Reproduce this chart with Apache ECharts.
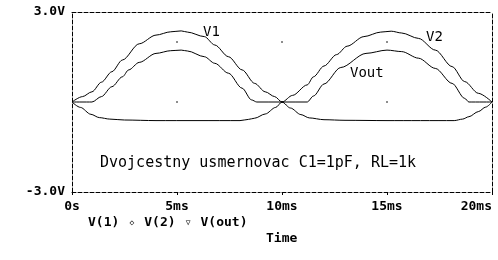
<!DOCTYPE html>
<html>
<head>
<meta charset="utf-8">
<script src="https://cdn.jsdelivr.net/npm/echarts@6/dist/echarts.min.js"></script>
<style>
  html, body { margin: 0; padding: 0; background: #fff; }
  #chart { width: 498px; height: 260px; }
</style>
</head>
<body>
<div id="chart"></div>
<script>
// time in ms, voltage in V
const v1Time = [0, 0.5, 0.95, 1.4, 1.9, 2.4, 3.2, 4.0, 4.7, 5.2, 5.5, 6.3, 6.8, 7.45, 8.1, 8.7, 9.2, 9.65, 10.0,
  10.4, 10.9, 11.3, 12.0, 13.0, 15.0, 18.2, 18.6, 18.9, 19.35, 19.7, 20]
const v1Volt = [0, 0.18, 0.34, 0.66, 1.01, 1.4, 1.94, 2.23, 2.34, 2.37, 2.33, 2.18, 1.9, 1.51, 1.07, 0.62, 0.34, 0.18, 0,
  -0.2, -0.42, -0.53, -0.59, -0.61, -0.62, -0.62, -0.57, -0.49, -0.32, -0.17, 0]

const v2Time = [0, 0.4, 0.9, 1.3, 1.8, 2.5, 4.0, 8.0, 8.4, 8.7, 9.2, 9.7, 10,
  10.5, 11.2, 11.5, 12.0, 12.6, 13.1, 13.9, 14.7, 15.2, 15.7, 16.5, 17.3, 18.1, 18.7, 19.35, 20]
const v2Volt = [0, -0.18, -0.41, -0.52, -0.57, -0.6, -0.62, -0.62, -0.58, -0.54, -0.4, -0.18, 0,
  0.22, 0.57, 0.84, 1.2, 1.58, 1.86, 2.18, 2.33, 2.36, 2.3, 2.12, 1.73, 1.18, 0.68, 0.29, 0]

const voutTime = [0, 0.95, 1.4, 1.9, 2.4, 2.7, 3.2, 4.0, 4.7, 5.2, 5.5, 6.3, 6.8, 7.45, 8.1, 8.55, 8.8,
  11.2, 11.5, 12.0, 12.8, 14.0, 15.0, 15.7, 16.5, 17.3, 18.1, 18.7, 18.9, 20]
const voutVolt = [0, 0, 0.18, 0.51, 0.84, 1.07, 1.32, 1.62, 1.71, 1.73, 1.7, 1.51, 1.29, 0.96, 0.46, 0.07, 0,
  0, 0.2, 0.6, 1.15, 1.62, 1.73, 1.68, 1.46, 1.12, 0.62, 0.12, 0, 0]

const dotTimes = [5, 10, 15]
const dotVolts = [2, 0]

const legendNames = ['V(1)', 'V(2)', 'V(out)']
const legendMarks = ['◇', '▽']
const traceLabels = ['V1', 'V2', 'Vout']
const titleText = 'Dvojcestny usmernovac C1=1pF, RL=1k'
const xAxisTitle = 'Time'

const pairs = (ts, vs) => ts.map((t, i) => [t, vs[i]])

const dots = []
dotTimes.forEach((t) => dotVolts.forEach((v) => dots.push([t, v])))

const mono = "'DejaVu Sans Mono', monospace"
const dash = [4, 2]

function lineSeries(name, data) {
  return {
    name, type: 'line', data,
    xAxisIndex: 0, yAxisIndex: 0,
    symbol: 'none', smooth: 0.3, smoothMonotone: 'x',
    lineStyle: { color: '#000', width: 1 },
    silent: true, animation: false,
  }
}

function frameAxis(position, min, max) {
  return {
    type: 'value', min, max, position,
    axisLine: { show: true, onZero: false, lineStyle: { color: '#000', width: 1, type: dash } },
    axisTick: { show: false }, axisLabel: { show: false }, splitLine: { show: false },
  }
}

const chart = echarts.init(document.getElementById('chart'), null, { renderer: 'canvas' })

const legendRich = {
  b: { fontFamily: mono, fontWeight: 'bold', fontSize: 13, color: '#000' },
  s: { fontFamily: mono, fontSize: 8, width: 9.3, align: 'center', color: '#000' },
}
const legendStr = `{b|${legendNames[0]} }{s|${legendMarks[0]}}{b| ${legendNames[1]} }{s|${legendMarks[1]}}{b| ${legendNames[2]}}`

chart.setOption({
  animation: false,
  backgroundColor: '#fff',
  grid: { left: 72, right: 6, top: 12, bottom: 68 },
  xAxis: [{
    type: 'value', min: 0, max: 20, interval: 5, position: 'bottom',
    axisLine: { show: true, onZero: false, lineStyle: { color: '#000', width: 1, type: dash } },
    axisTick: { show: true, length: 3, lineStyle: { color: '#000' } },
    axisLabel: {
      margin: 8, color: '#000', fontFamily: mono, fontWeight: 'bold', fontSize: 13,
      alignMaxLabel: 'right',
      formatter: (v) => (v === 0 ? '0s' : v + 'ms'),
    },
    splitLine: { show: false },
  }, frameAxis('top', 0, 20)],
  yAxis: [{
    type: 'value', min: -3, max: 3, interval: 3, position: 'left',
    axisLine: { show: true, onZero: false, lineStyle: { color: '#000', width: 1, type: dash } },
    axisTick: { show: false },
    axisLabel: {
      margin: 7, color: '#000', fontFamily: mono, fontWeight: 'bold', fontSize: 13,
      formatter: (v) => (v === 0 ? '' : v.toFixed(1) + 'V'),
    },
    splitLine: { show: false },
  }, frameAxis('right', -3, 3)],
  series: [
    lineSeries('V(1)', pairs(v1Time, v1Volt)),
    lineSeries('V(2)', pairs(v2Time, v2Volt)),
    lineSeries('V(out)', pairs(voutTime, voutVolt)),
    {
      type: 'scatter', data: dots, symbol: 'rect', symbolSize: 1.5,
      itemStyle: { color: '#000' }, silent: true,
    },
  ],
  graphic: [
    { type: 'text', left: 203, top: 25, style: { text: traceLabels[0], font: `14px ${mono}`, fill: '#000' } },
    { type: 'text', left: 426, top: 30, style: { text: traceLabels[1], font: `14px ${mono}`, fill: '#000' } },
    { type: 'text', left: 350, top: 66, style: { text: traceLabels[2], font: `14px ${mono}`, fill: '#000' } },
    { type: 'text', left: 100, top: 156, style: { text: titleText, font: `15px ${mono}`, fill: '#000' } },
    { type: 'text', left: 88, top: 216, style: { text: legendStr, rich: legendRich, fill: '#000' } },
    { type: 'text', left: 266, top: 232, style: { text: xAxisTitle, font: `bold 13px ${mono}`, fill: '#000' } },
  ],
})
</script>
</body>
</html>
